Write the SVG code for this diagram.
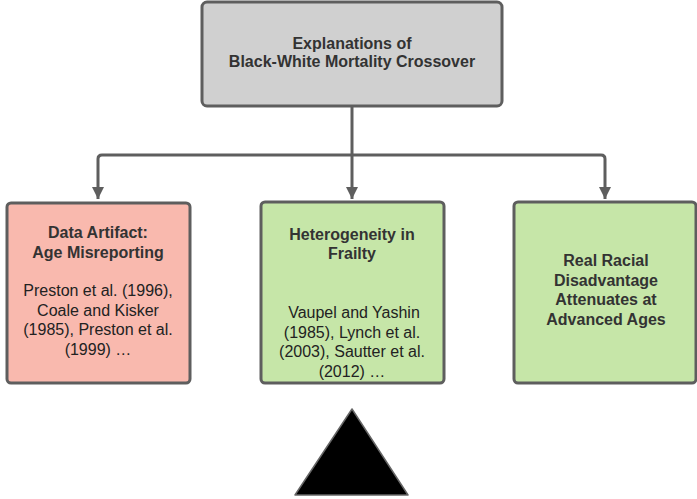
<svg xmlns="http://www.w3.org/2000/svg" width="697" height="499" viewBox="0 0 697 499">
<style>
.box{stroke:#5e5e5e;stroke-width:3}
.t{font-family:"Liberation Sans",Arial,sans-serif;font-size:16px;fill:#333;text-anchor:middle}
.n{fill:#222}
.b{font-weight:bold}
.conn{fill:none;stroke:#5e5e5e;stroke-width:3}
</style>
<defs>
<marker id="arr" markerWidth="12" markerHeight="14" refX="12" refY="6" orient="auto" markerUnits="userSpaceOnUse">
<path d="M0,0 L12,6 L0,12 Z" fill="#5e5e5e"/>
</marker>
</defs>
<g id="connectors">
<path class="conn" d="M352,106 V155"/>
<path class="conn" d="M352,155 H102 Q98,155 98,159 V199" marker-end="url(#arr)"/>
<path class="conn" d="M352,155 V199" marker-end="url(#arr)"/>
<path class="conn" d="M352,155 H601 Q605,155 605,159 V199" marker-end="url(#arr)"/>
</g>
<g id="root">
<rect class="box" x="202" y="2" width="300" height="104" rx="5" fill="#d0d0d0"/>
<text class="t b" x="352" y="49">Explanations of</text>
<text class="t b" x="352" y="67">Black-White Mortality Crossover</text>
</g>
<g id="data-artifact">
<rect class="box" x="7" y="203" width="183" height="180" rx="4" fill="#f9b9ae"/>
<text class="t b" x="98" y="238">Data Artifact:</text>
<text class="t b" x="98" y="258">Age Misreporting</text>
<text class="t n" x="98" y="296">Preston et al. (1996),</text>
<text class="t n" x="98" y="316">Coale and Kisker</text>
<text class="t n" x="98" y="335">(1985), Preston et al.</text>
<text class="t n" x="98" y="355">(1999) …</text>
</g>
<g id="heterogeneity">
<rect class="box" x="261" y="202" width="183" height="181" rx="4" fill="#c6e6a8"/>
<text class="t b" x="352" y="240">Heterogeneity in</text>
<text class="t b" x="352" y="259">Frailty</text>
<text class="t n" x="354" y="318">Vaupel and Yashin</text>
<text class="t n" x="352" y="338">(1985), Lynch et al.</text>
<text class="t n" x="352" y="357">(2003), Sautter et al.</text>
<text class="t n" x="352" y="377">(2012) …</text>
</g>
<g id="real-racial">
<rect class="box" x="514" y="202" width="182" height="181" rx="4" fill="#c6e6a8"/>
<text class="t b" x="606" y="266">Real Racial</text>
<text class="t b" x="606" y="286">Disadvantage</text>
<text class="t b" x="606" y="305">Attenuates at</text>
<text class="t b" x="606" y="325">Advanced Ages</text>
</g>
<g id="fulcrum">
<path d="M352,409 L408,495 L295,495 Z" fill="#000" stroke="#666" stroke-width="1.5" stroke-linejoin="round"/>
</g>
</svg>
